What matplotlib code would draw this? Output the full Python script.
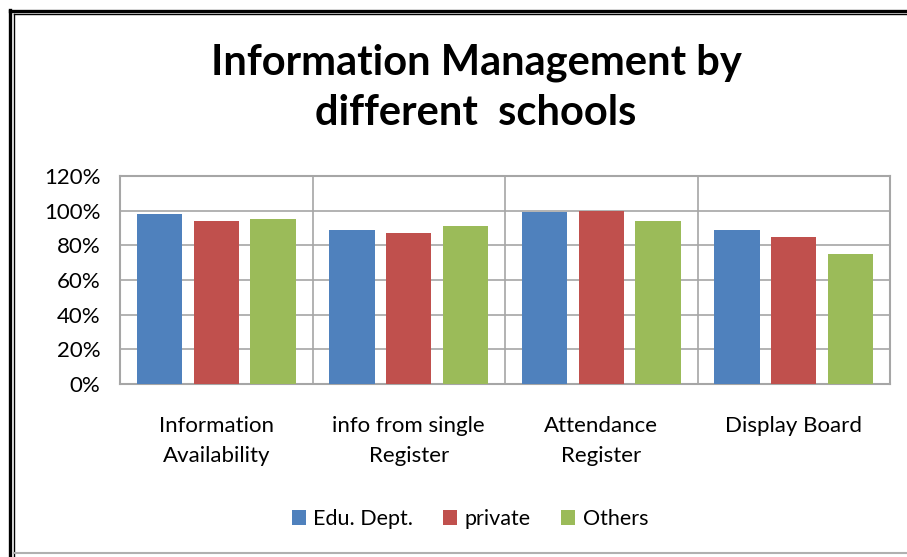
import matplotlib.pyplot as plt
import numpy as np
from matplotlib.lines import Line2D
from matplotlib.ticker import FuncFormatter

# Data
categories = ['Information\nAvailability', 'info from single\nRegister',
              'Attendance\nRegister', 'Display Board']
series_names = ['Edu. Dept.', 'private', 'Others']
edu_dept = [98, 89, 99, 89]
private = [94, 87, 100, 85]
others = [95, 91, 94, 75]
colors = ['#4F81BD', '#C0504D', '#9BBB59']

plt.rcParams['font.family'] = ['Lato', 'DejaVu Sans']

W, H = 907, 557
fig = plt.figure(figsize=(W / 100, H / 100), dpi=100)
fig.patch.set_facecolor('white')

# Plot area (pixel positions from the reference)
left, right, top, bottom = 120, 890, 176, 384
ax = fig.add_axes([left / W, 1 - bottom / H, (right - left) / W, (bottom - top) / H])

x = np.arange(len(categories))
offset = 0.295
width = 0.235
for i, (vals, name) in enumerate(zip([edu_dept, private, others], series_names)):
    ax.bar(x + (i - 1) * offset, vals, width, color=colors[i], label=name, zorder=3)

ax.set_xlim(-0.5, len(categories) - 0.5)
ax.set_ylim(0, 120)
ax.set_yticks(np.arange(0, 121, 20))
ax.yaxis.set_major_formatter(FuncFormatter(lambda v, p: f'{int(v)}%'))
ax.set_xticks(x)
ax.set_xticklabels(categories)
ax.set_xticks(x[:-1] + 0.5, minor=True)

ax.grid(axis='y', which='major', color='#a6a6a6', linewidth=1.2, zorder=0)
ax.grid(axis='x', which='minor', color='#a6a6a6', linewidth=1.2, zorder=0)
ax.tick_params(axis='both', which='both', length=0)
ax.tick_params(axis='y', labelsize=16, pad=14, colors='#000000')
ax.tick_params(axis='x', labelsize=16, pad=23)
for lbl in ax.get_xticklabels():
    lbl.set_linespacing(1.6)
    lbl.set_verticalalignment('top')
for s in ax.spines.values():
    s.set_color('#a6a6a6')
    s.set_linewidth(1.5)

# Title
fig.text(476 / W, 1 - 63 / H, 'Information Management by', ha='center', va='center',
         fontsize=30, fontweight='bold')
fig.text(476 / W, 1 - 113 / H, 'different  schools', ha='center', va='center',
         fontsize=30, fontweight='bold')

# Legend
fig.legend(loc='center', bbox_to_anchor=(470 / W, 1 - 519 / H), ncol=3, frameon=False,
           fontsize=15.5, handlelength=0.65, handleheight=0.65, handletextpad=0.35,
           columnspacing=1.4)

# Frame around the chart: double black line on left/top, grey line at bottom
def px_line(xs, ys, **kw):
    fig.add_artist(Line2D([v / W for v in xs], [1 - v / H for v in ys],
                          transform=fig.transFigure, **kw))

px_line([9.5, 9.5], [10, H], color='black', linewidth=2.4)
px_line([9.5, W], [10.5, 10.5], color='black', linewidth=2.4)
px_line([13.5, 13.5], [14, H], color='black', linewidth=1.0)
px_line([13.5, W], [14, 14], color='black', linewidth=1.0)
px_line([14, W], [553, 553], color='#b0b0b0', linewidth=1.5)

fig.savefig('out.png', dpi=100)
